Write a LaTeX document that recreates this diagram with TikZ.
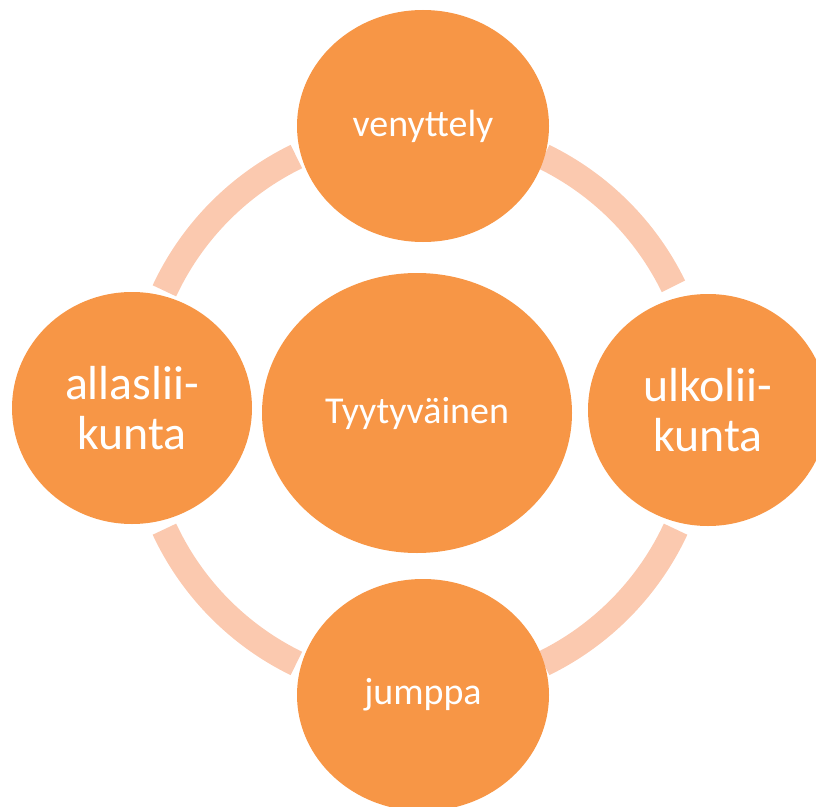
\documentclass[tikz,border=0pt]{standalone}
\usepackage{fontspec}
\setmainfont{Carlito}
\usetikzlibrary{shapes.geometric}
\definecolor{pallo}{HTML}{F79646}
\definecolor{kaari}{HTML}{FBC9AF}
\begin{document}
\begin{tikzpicture}[
    pallo/.style={ellipse,fill=pallo,inner sep=0pt,text=white,align=center},
    pieni/.style={pallo,font=\fontsize{27}{30}\selectfont},
    iso/.style={pallo,font=\fontsize{34}{35}\selectfont},
    kaari/.style={draw=kaari,line width=0.65cm}]
  \useasboundingbox (0,0) rectangle (20.4,-20.175);
  \coordinate (hub) at (10.5,-10.25);
  % ring behind the circles
  \draw[kaari] (hub) ++(26:7.05) arc (26:64:7.05);
  \draw[kaari] (hub) ++(116:7.05) arc (116:155:7.05);
  \draw[kaari] (hub) ++(205:7.05) arc (205:244:7.05);
  \draw[kaari] (hub) ++(296:7.05) arc (296:335:7.05);
  \node[pieni,minimum width=6.3cm,minimum height=5.8cm] (venyttely) at (10.575,-3.15) {venyttely};
  \node[iso,minimum width=6.0cm,minimum height=5.8cm] (allas) at (3.3,-10.2) {allaslii-\\kunta};
  \node[iso,minimum width=6.0cm,minimum height=5.8cm] (ulko) at (17.7,-10.25) {ulkolii-\\kunta};
  \node[pieni,minimum width=6.3cm,minimum height=5.8cm] (jumppa) at (10.575,-17.375) {jumppa};
  \node[pieni,minimum width=7.75cm,minimum height=7.0cm] (tyyty) at (10.425,-10.325) {Tyytyväinen};
\end{tikzpicture}
\end{document}
